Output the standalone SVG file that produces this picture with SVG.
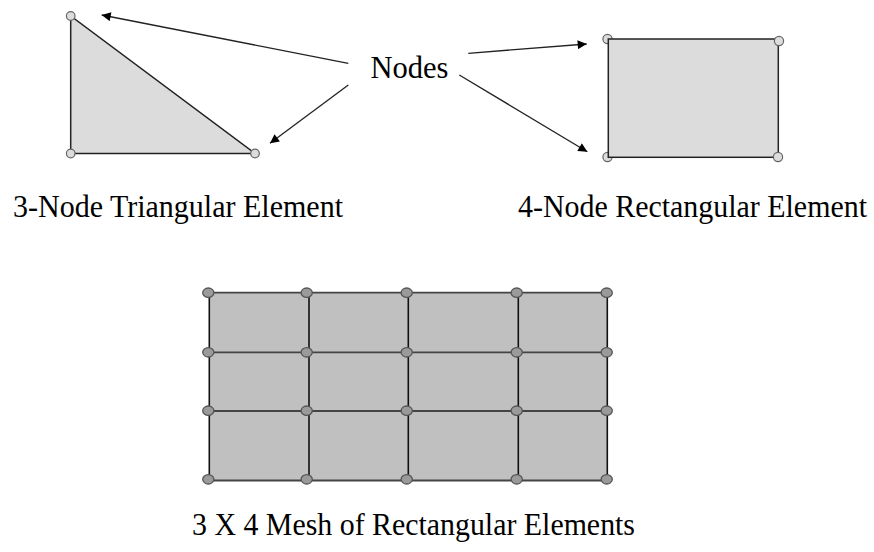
<svg xmlns="http://www.w3.org/2000/svg" width="874" height="552" viewBox="0 0 874 552">
<defs>
<style>
.lbl{font-family:"Liberation Serif","Times New Roman",serif;font-size:30.5px;fill:#000}
.el{fill:#dcdcdc;stroke:#222;stroke-width:1.5}
.nd{fill:#dcdcdc;stroke:#666;stroke-width:1.2}
.cell{fill:#c0c0c0;stroke:none}
.gv{stroke:#111;stroke-width:1.6}
.gh{stroke:#444;stroke-width:1.8}
.mn{fill:#9a9a9a;stroke:#555;stroke-width:1.3}
.arr{stroke:#222;stroke-width:1.3;fill:none;marker-end:url(#ah)}
</style>
<marker id="ah" viewBox="0 0 10 10" refX="10" refY="5" markerWidth="12" markerHeight="9" markerUnits="userSpaceOnUse" orient="auto">
<path d="M0,0 L10,5 L0,10 z" fill="#000"/>
</marker>
</defs>
<rect width="874" height="552" fill="#fff"/>
<g id="triangle">
<path class="el" d="M70.7,16 L70.7,153.5 L255,153.5 Z"/>
<circle class="nd" cx="70.7" cy="16" r="4.3"/>
<circle class="nd" cx="70.7" cy="153.5" r="4.3"/>
<circle class="nd" cx="255" cy="153.5" r="4.3"/>
</g>
<g id="rectangle">
<circle class="nd" cx="607.5" cy="39" r="4.6"/>
<circle class="nd" cx="607.5" cy="157" r="4.6"/>
<rect class="el" x="608.3" y="39" width="170" height="118.3"/>
<circle class="nd" cx="779" cy="41" r="4.6"/>
<circle class="nd" cx="778" cy="157" r="4.6"/>
</g>
<g id="nodes-label"><text class="lbl" x="370.5" y="77.7" textLength="78" lengthAdjust="spacingAndGlyphs">Nodes</text></g>
<g id="connectors">
<line class="arr" x1="348.3" y1="63.3" x2="101.7" y2="15"/>
<line class="arr" x1="348.3" y1="85" x2="270" y2="143.3"/>
<line class="arr" x1="468.3" y1="53.3" x2="586.7" y2="44"/>
<line class="arr" x1="459.3" y1="75" x2="587.3" y2="151.7"/>
</g>
<g id="tri-label"><text class="lbl" x="13" y="216.7" textLength="330" lengthAdjust="spacingAndGlyphs">3-Node Triangular Element</text></g>
<g id="rect-label"><text class="lbl" x="518" y="216.7" textLength="349" lengthAdjust="spacingAndGlyphs">4-Node Rectangular Element</text></g>
<g id="mesh">
<rect class="cell" x="209.3" y="292.7" width="398" height="188"/>
<line class="gh" x1="209.3" y1="292.7" x2="607.3" y2="292.7"/>
<line class="gh" x1="209.3" y1="352.3" x2="607.3" y2="352.3"/>
<line class="gh" x1="209.3" y1="411" x2="607.3" y2="411"/>
<line class="gh" x1="209.3" y1="480.5" x2="607.3" y2="480.5"/>
<line class="gv" x1="209.3" y1="292.7" x2="209.3" y2="480.5"/>
<line class="gv" x1="309" y1="292.7" x2="309" y2="480.5"/>
<line class="gv" x1="408.3" y1="292.7" x2="408.3" y2="480.5"/>
<line class="gv" x1="518.3" y1="292.7" x2="518.3" y2="480.5"/>
<line class="gv" x1="607.3" y1="292.7" x2="607.3" y2="480.5"/>
<g id="mesh-nodes">
<ellipse class="mn" cx="208.3" cy="292.7" rx="5.6" ry="4.7"/>
<ellipse class="mn" cx="306.7" cy="292.7" rx="5.6" ry="4.7"/>
<ellipse class="mn" cx="406.7" cy="292.7" rx="5.6" ry="4.7"/>
<ellipse class="mn" cx="516.7" cy="292.7" rx="5.6" ry="4.7"/>
<ellipse class="mn" cx="606.7" cy="292.7" rx="5.6" ry="4.7"/>
<ellipse class="mn" cx="208.3" cy="352.3" rx="5.6" ry="4.7"/>
<ellipse class="mn" cx="306.7" cy="352.3" rx="5.6" ry="4.7"/>
<ellipse class="mn" cx="406.7" cy="352.3" rx="5.6" ry="4.7"/>
<ellipse class="mn" cx="516.7" cy="352.3" rx="5.6" ry="4.7"/>
<ellipse class="mn" cx="606.7" cy="352.3" rx="5.6" ry="4.7"/>
<ellipse class="mn" cx="208.3" cy="410.7" rx="5.6" ry="4.7"/>
<ellipse class="mn" cx="306.7" cy="410.7" rx="5.6" ry="4.7"/>
<ellipse class="mn" cx="406.7" cy="410.7" rx="5.6" ry="4.7"/>
<ellipse class="mn" cx="516.7" cy="410.7" rx="5.6" ry="4.7"/>
<ellipse class="mn" cx="606.7" cy="410.7" rx="5.6" ry="4.7"/>
<ellipse class="mn" cx="208.3" cy="479.3" rx="5.6" ry="4.7"/>
<ellipse class="mn" cx="306.7" cy="479.3" rx="5.6" ry="4.7"/>
<ellipse class="mn" cx="406.7" cy="479.3" rx="5.6" ry="4.7"/>
<ellipse class="mn" cx="516.7" cy="479.3" rx="5.6" ry="4.7"/>
<ellipse class="mn" cx="606.7" cy="479.3" rx="5.6" ry="4.7"/>
</g>
</g>
<g id="mesh-label"><text class="lbl" x="192" y="535" textLength="443" lengthAdjust="spacingAndGlyphs">3 X 4 Mesh of Rectangular Elements</text></g>
</svg>
